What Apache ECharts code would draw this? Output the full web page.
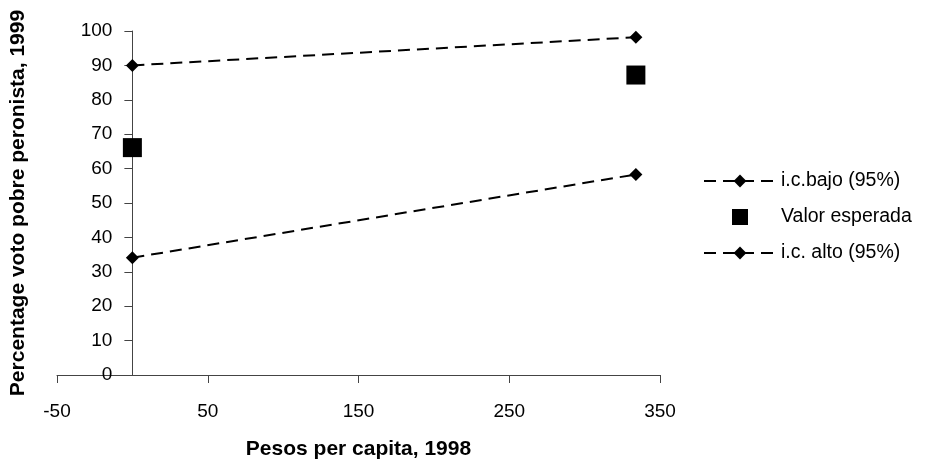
<!DOCTYPE html>
<html>
<head>
<meta charset="utf-8">
<script src="https://cdn.jsdelivr.net/npm/echarts@6/dist/echarts.min.js"></script>
<style>
  html, body { margin: 0; padding: 0; background: #fff; }
  #chart { width: 933px; height: 461px; }
</style>
</head>
<body>
<div id="chart"></div>
<script>
// valores
var xPoints = [0, 334];
var icBajo = [90, 98.2];
var valorEsperada = [66.1, 87.2];
var icAlto = [34.1, 58.3];
var xTicks = [-50, 50, 150, 250, 350];

var font = 'Liberation Sans, Arial, sans-serif';
var gridLeft = 57;

function pairs(xs, ys) {
    var out = [];
    for (var i = 0; i < xs.length; i++) out.push([xs[i], ys[i]]);
    return out;
}

var myChart = echarts.init(document.getElementById('chart'));

var option = {
    backgroundColor: '#fff',
    animation: false,
    textStyle: { fontFamily: font },
    grid: { left: gridLeft, right: 273, top: 31, bottom: 86, containLabel: false, outerBoundsMode: 'none' },
    xAxis: {
        type: 'value',
        min: -50,
        max: 350,
        name: 'Pesos per capita, 1998',
        nameLocation: 'middle',
        nameGap: 64,
        nameTextStyle: { fontSize: 21, fontWeight: 'bold', color: '#000', fontFamily: font },
        axisLine: { onZero: false, lineStyle: { color: '#444', width: 1 } },
        axisTick: { show: true, length: 8, customValues: xTicks, lineStyle: { color: '#444' } },
        axisLabel: { customValues: xTicks, color: '#000', fontSize: 19, margin: 27, fontFamily: font },
        splitLine: { show: false }
    },
    yAxis: {
        type: 'value',
        position: 'left',
        min: 0,
        max: 100,
        interval: 10,
        name: 'Percentage voto pobre peronista, 1999',
        nameLocation: 'middle',
        nameGap: 104,
        nameTextStyle: { fontSize: 21, fontWeight: 'bold', color: '#000', fontFamily: font },
        axisLine: { show: true, onZero: false, lineStyle: { color: '#444', width: 1 } },
        axisTick: { show: true, length: 8, lineStyle: { color: '#444' } },
        axisLabel: { color: '#000', fontSize: 19, margin: 20, fontFamily: font },
        splitLine: { show: false }
    },
    legend: {
        orient: 'vertical',
        left: 698,
        top: 166,
        itemWidth: 72,
        itemHeight: 16,
        itemGap: 16,
        textStyle: { fontSize: 19.5, color: '#000', fontFamily: font },
        data: [
            'i.c.bajo (95%)',
            { name: 'Valor esperada', icon: 'path://M0,0L10,0L10,10L0,10Z' },
            'i.c. alto (95%)'
        ]
    },
    series: [
        {
            name: 'i.c.bajo (95%)',
            type: 'line',
            data: pairs(xPoints, icBajo),
            symbol: 'diamond',
            symbolSize: 13,
            itemStyle: { color: '#000', opacity: 1 },
            lineStyle: { color: '#000', width: 2, type: [12, 7] }
        },
        {
            name: 'Valor esperada',
            type: 'scatter',
            data: pairs(xPoints, valorEsperada),
            symbol: 'rect',
            symbolSize: 19,
            itemStyle: { color: '#000', opacity: 1 }
        },
        {
            name: 'i.c. alto (95%)',
            type: 'line',
            data: pairs(xPoints, icAlto),
            symbol: 'diamond',
            symbolSize: 13,
            itemStyle: { color: '#000', opacity: 1 },
            lineStyle: { color: '#000', width: 2, type: [12, 7] }
        }
    ]
};

myChart.setOption(option);

// mover el eje y hasta x = 0 (linea, marcas y etiquetas juntas)
var zeroPx = myChart.convertToPixel({ xAxisIndex: 0 }, 0);
myChart.setOption({ yAxis: { offset: -(zeroPx - gridLeft) } });
</script>
</body>
</html>
